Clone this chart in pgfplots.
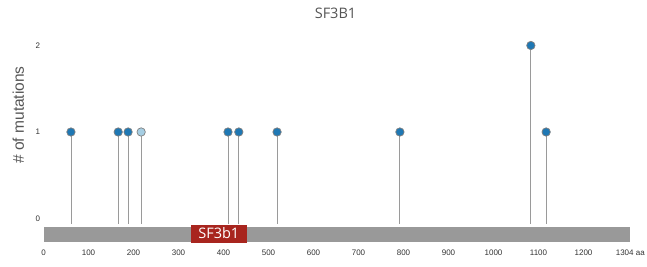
\documentclass[border=0pt]{standalone}
\usepackage{fontspec}
\setmainfont{Liberation Sans}
\newfontfamily\opensans{Open Sans}
\usepackage{pgfplots}
\usepackage{pgfplotstable}
\pgfplotsset{compat=1.18}
\definecolor{mutBlue}{HTML}{1F78B4}
\definecolor{mutLight}{HTML}{A6CEE3}
\definecolor{stemGray}{HTML}{9A9A9A}
\definecolor{barGray}{HTML}{999999}
\definecolor{domRed}{HTML}{A8251E}
\definecolor{txtGray}{HTML}{555555}
\definecolor{tickTxt}{HTML}{333333}
\pgfplotstableread{
x y e
61 1 1.062
166 1 1.062
188 1 1.062
217 1 1.062
410 1 1.062
434 1 1.062
519 1 1.062
792 1 1.062
1083 2 2.062
1117 1 1.062
}\stems
\pgfplotstableread{
x y
61 1
166 1
188 1
410 1
434 1
519 1
792 1
1083 2
1117 1
}\darkmut
\pgfplotstableread{
x y
217 1
}\lightmut
\begin{document}
\begin{tikzpicture}
\useasboundingbox (0,0) rectangle (647pt,267pt);
\begin{axis}[
  anchor=origin, at={(43.5pt,48.5pt)},
  scale only axis, width=586.8pt, height=216.25pt,
  xmin=0, xmax=1304, ymin=-0.3, ymax=2.2,
  clip=false,
  axis line style={draw=none},
  major tick style={draw=none},
  xtick={0,100,200,300,400,500,600,700,800,900,1000,1100,1200,1304},
  xticklabels={0,100,200,300,400,500,600,700,800,900,1000,1100,1200,1304 aa},
  ytick={0,1,2},
  /pgf/number format/assume math mode=true,
  ticklabel style={font=\fontsize{8}{9}\selectfont, text=tickTxt},
  xticklabel style={anchor=base, yshift=-11pt},
  yticklabel style={anchor=east},
]
% protein bar
\addplot[fill=barGray, draw=none] coordinates {(0,-0.101) (1304,-0.101) (1304,-0.267) (0,-0.267)} -- cycle;
% domain
\addplot[fill=domRed, draw=none] coordinates {(327.8,-0.073) (451.5,-0.073) (451.5,-0.287) (327.8,-0.287)} -- cycle;
\node[anchor=base, text=white, font=\opensans\fontsize{14.5}{16}\selectfont, inner sep=0pt] at (axis cs:389.6,-0.229) {SF3b1};
% stems
\addplot[only marks, mark=none, error bars/.cd, y dir=minus, y explicit, error mark=none,
  error bar style={draw=stemGray, line width=0.9pt, solid}]
  table[x=x, y=y, y error minus=e] {\stems};
% markers
\addplot[only marks, mark=*, mark size=4.2pt, mark options={fill=mutBlue, draw=gray, line width=0.7pt}] table[x=x,y=y] {\darkmut};
\addplot[only marks, mark=*, mark size=4.2pt, mark options={fill=mutLight, draw=gray, line width=0.7pt}] table[x=x,y=y] {\lightmut};
\end{axis}
\node[anchor=base, text=txtGray, font=\opensans\fontsize{14.5}{16}\selectfont, inner sep=0pt] at (335.5pt,248.7pt) {SF3B1};
\node[anchor=base, rotate=90, text=txtGray, font=\fontsize{15.5}{17}\selectfont, inner sep=0pt] at (24pt,152pt) {\# of mutations};
\end{tikzpicture}
\end{document}
